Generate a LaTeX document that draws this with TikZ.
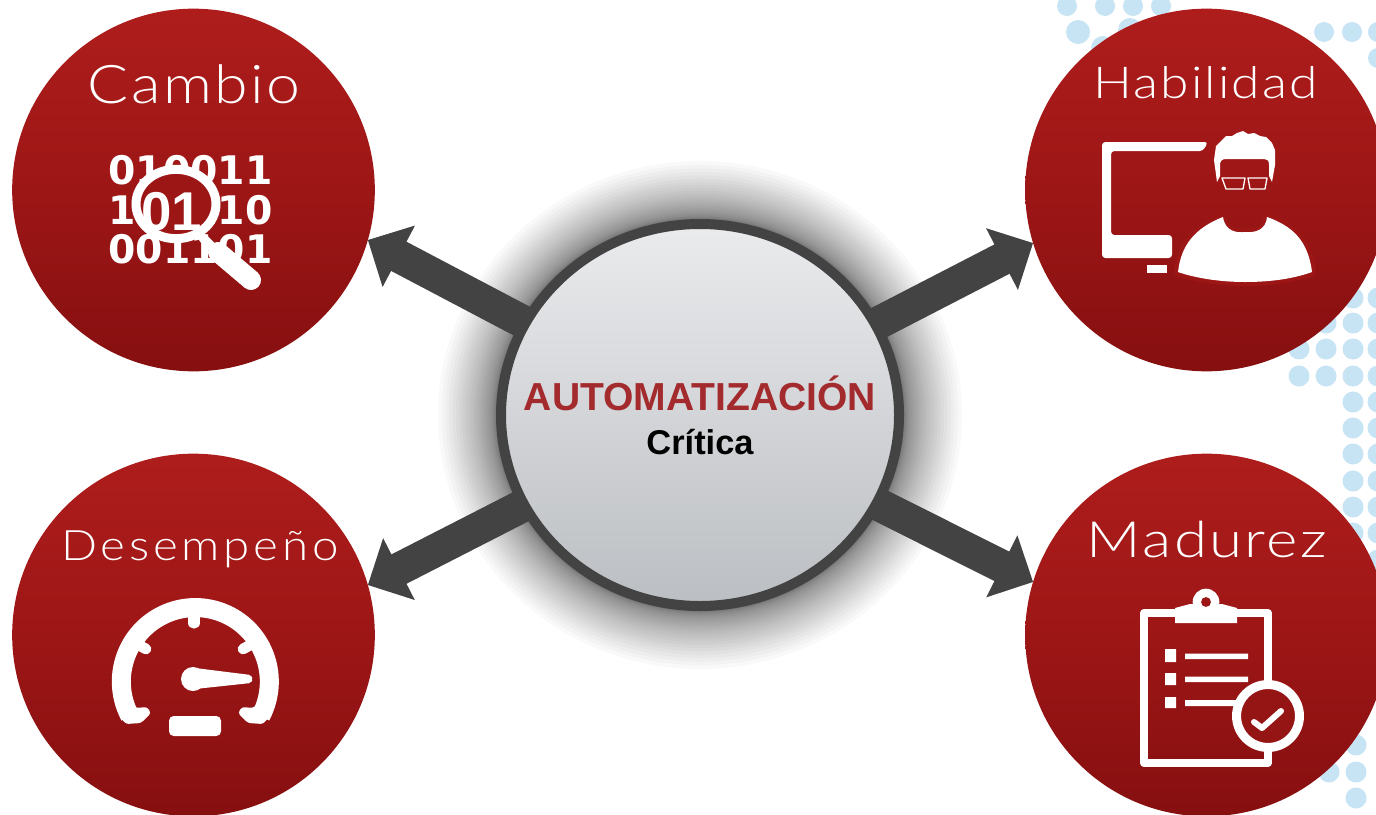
\documentclass[tikz,border=0pt]{standalone}
\usepackage{graphicx}
\usepackage{fontspec}
\setmainfont{Liberation Sans}
\newfontfamily\lightfont[LetterSpace=4]{Lato Light}
\newfontfamily\rawfont[LetterSpace=8]{Lato Light}
\newfontfamily\digitfont{DejaVu Sans Bold}
\usetikzlibrary{arrows.meta,shapes.geometric}
\pgfdeclarelayer{dotlayer}
\pgfdeclarelayer{arrowlayer}
\pgfsetlayers{dotlayer,arrowlayer,main}
\definecolor{dotblue}{HTML}{C6E4F4}
\definecolor{redtop}{HTML}{AE1D1C}
\definecolor{redmid}{HTML}{9D1616}
\definecolor{redbot}{HTML}{860F10}
\definecolor{ringgray}{HTML}{434343}
\definecolor{hubtop}{HTML}{EAEBED}
\definecolor{hubbot}{HTML}{BBBEC2}
\definecolor{titlered}{HTML}{A32B2E}
\tikzset{
  x=0.75pt,y=-0.75pt,
  redball/.style={circle,inner sep=0pt,outer sep=0pt,minimum size=272pt,top color=redtop,bottom color=redbot,middle color=redmid},
  titletext/.style={text=white,inner sep=0pt,anchor=base},
  hubtext/.style={inner sep=0pt,anchor=base,font=\bfseries},
  digittext/.style={text=white,inner sep=0pt,anchor=base west,font=\digitfont\fontsize{29.5}{30}\selectfont},
  bigarrow/.style={draw=ringgray,line width=24.75pt,-{Triangle[length=26.25pt,width=50.5pt]}},
  dotmark/.style={fill=dotblue,draw=none},
  iconfill/.style={fill=white,draw=none},
  iconline/.style={draw=white,line cap=round,line join=round},
}
\newcommand{\dotsat}[2]{\foreach \px/\py in {#2}{\fill[dotmark] (\px,\py) circle[radius=#1*0.75pt];}}
\begin{document}
\begin{tikzpicture}
\useasboundingbox (0,0) rectangle (1376,814);
\begin{pgfonlayer}{dotlayer}
\fill[white] (0,0) rectangle (1376,814);
\dotsat{10}{1067/6,1105/6,1133/6,1161/6,1324/32,1352/32,1378/32,1378/58}
\dotsat{12}{1078/32,1130/30,1103/48}
\dotsat{10.5}{1353/298,1378/298,1326/323,1353/323,1378/323,1299/349,1326/349,1353/349,1378/349,1299/376,1326/376,1353/376,1378/376,1353/402,1378/402,1353/428,1378/428,1353/454,1378/454,1353/481,1378/481,1353/507,1378/507,1353/533,1378/533,1378/560,1378/586,1356/745,1329/772,1356/772,1356/798}
\end{pgfonlayer}
% balls and hub
\node[redball] (cambio) at (193.5,190) {};
\node[redball] (habilidad) at (1206.5,190) {};
\node[redball] (desempeno) at (193.5,635) {};
\node[redball] (madurez) at (1206.5,635) {};
\begin{pgfonlayer}{arrowlayer}
\foreach \i in {1,...,30}{
  \pgfmathsetmacro{\grow}{58*(\i/30)*(\i/30)}
  \fill[black,opacity=0.025] (700,415) circle[x radius={(204+\grow)*0.75pt},y radius={(196+\grow)*0.75pt}];
}
\end{pgfonlayer}
\node[ellipse,inner sep=0pt,outer sep=0pt,minimum width=298.5pt,minimum height=286.5pt,draw=ringgray,line width=7.5pt,top color=hubtop,bottom color=hubbot] (hub) at (700,415) {};
\begin{pgfonlayer}{arrowlayer}
\draw[bigarrow] (hub.center) -- (cambio.-16.6);
\draw[bigarrow] (hub.center) -- (habilidad.197);
\draw[bigarrow] (hub.center) -- (desempeno.16.7);
\draw[bigarrow] (hub.center) -- (madurez.163.3);
\end{pgfonlayer}
% hub text
\node[hubtext,text=titlered,font=\bfseries\fontsize{29.3}{29}\selectfont] (hubtitle) at (700,410) {AUTOMATIZACIÓN};
\node[hubtext,text=black,font=\bfseries\fontsize{25.8}{26}\selectfont] (hubsub) at (700,454) {Crítica};
% titles
\node[titletext,font=\lightfont\fontsize{40}{40}\selectfont] (tcambio) at (194,103) {\scalebox{1.14}[1]{Cambio}};
\node[titletext,font=\lightfont\fontsize{33}{33}\selectfont] (thabilidad) at (1205.5,98) {\scalebox{1.17}[1]{Habilidad}};
\node[titletext,font=\rawfont\fontsize{31.5}{32}\selectfont] (tdesempeno) at (200,560) {\scalebox{1.13}[1]{Desempeño}};
\node[titletext,font=\lightfont\fontsize{37.5}{38}\selectfont] (tmadurez) at (1207,557) {\scalebox{1.2}[1]{Madurez}};
% Cambio icon
\node[digittext] (row1) at (108,184) {010011};
\node[digittext] (row2) at (108,224) {101110};
\node[digittext] (row3) at (108,263) {001101};
\draw[iconline,line width=7pt] (203,238) -- (214,249);
\draw[iconline,line width=15pt] (218,252) -- (251,280);
\fill[fill=redmid,draw=white,line width=6.75pt] (176,204) circle[x radius=30pt,y radius=26pt];
\node[titletext,font=\bfseries\fontsize{41}{41}\selectfont] (lens) at (172,230) {01};
% Habilidad icon
\fill[iconfill,rounded corners=2.5pt] (1208,142) -- (1102,142) -- (1102,258) -- (1172,258) -- (1172,235) -- (1111,235) -- (1111,151) -- (1203,151) -- cycle;
\fill[iconfill] (1147,265) rectangle (1167,273);
\def\bodypath{(1178,272) .. controls (1181,245) and (1195,228) .. (1223,217) .. controls (1225,232) and (1238,233) .. (1245,232) .. controls (1255,233) and (1266,230) .. (1267,217) .. controls (1292,226) and (1308,240) .. (1312,272) .. controls (1290,280) and (1265,282) .. (1245,282) .. controls (1220,282) and (1195,278) .. (1178,272) -- cycle}
\def\hairpath{(1217,182) -- (1214,160) -- (1216,146) -- (1222,140) -- (1226,136) -- (1232,136) -- (1237,133) -- (1243,131) -- (1248,134) -- (1254,133) -- (1260,136) -- (1266,137) -- (1272,143) -- (1275,150) -- (1275,165) -- (1272,182) -- (1269,176) -- (1269,165) .. controls (1269,160) and (1267,159) .. (1264,159) -- (1226,159) .. controls (1222,159) and (1220,161) .. (1220,165) -- (1220,176) -- cycle}
\draw[draw=redmid,line width=6pt,line join=round] \bodypath;
\fill[iconfill] \bodypath;
\fill[iconfill] \hairpath;
\draw[draw=white,line width=1pt,line join=round] (1222,178) -- (1245,178) -- (1243,189) -- (1226,189) -- cycle (1248,178) -- (1267,178) -- (1265,189) -- (1250,189) -- cycle;
% Madurez icon
\draw[draw=white,line width=6pt,line join=round] (1144,613) rectangle (1268,763);
\fill[iconfill] (1206,602) circle[radius=10pt];
\fill[iconfill] (1175,623) -- (1175,608) -- (1190,604) -- (1222,604) -- (1237,608) -- (1237,623) -- cycle;
\fill[redmid] (1206,602) circle[radius=3.7pt];
\fill[iconfill] (1165,649) rectangle (1176,662) (1165,673) rectangle (1176,685) (1165,697) rectangle (1176,708);
\fill[iconfill] (1185,653.5) rectangle (1248,659) (1185,676.5) rectangle (1248,682) (1185,700) rectangle (1240,706);
\fill[fill=redmid!95!black,draw=white,line width=6.75pt] (1268,716) circle[radius=23.6pt];
\draw[iconline,line width=4.5pt] (1254,722) -- (1262,728) -- (1281,711);
% Desempeno icon
\draw[draw=white,line width=14.25pt,line cap=butt] (130,716.3) arc[start angle=208,end angle=-28,radius=55.5pt];
\fill[iconfill,rounded corners=2pt] (120,717) -- (126,724) -- (141,723) -- (151,713) -- (147,707) -- (136,708) -- (130,703) -- cycle;
\fill[iconfill,rounded corners=2pt] (269,717) -- (263,724) -- (248,723) -- (238,713) -- (242,707) -- (253,708) -- (259,703) -- cycle;
\draw[draw=white,line width=8.5pt,line cap=round] (194,612) -- (194,623);
\draw[draw=white,line width=8pt,line cap=round] (137,644) -- (146,649);
\draw[draw=white,line width=8pt,line cap=round] (252,644) -- (243,649);
\fill[iconfill] (193,679) circle[radius=9pt];
\fill[iconfill,rounded corners=1.5pt] (195,668) -- (251,675) -- (253,679) -- (251,683) -- (195,689) -- cycle;
\fill[iconfill,rounded corners=3.5pt] (169,716) rectangle (221,736);
\end{tikzpicture}
\end{document}
